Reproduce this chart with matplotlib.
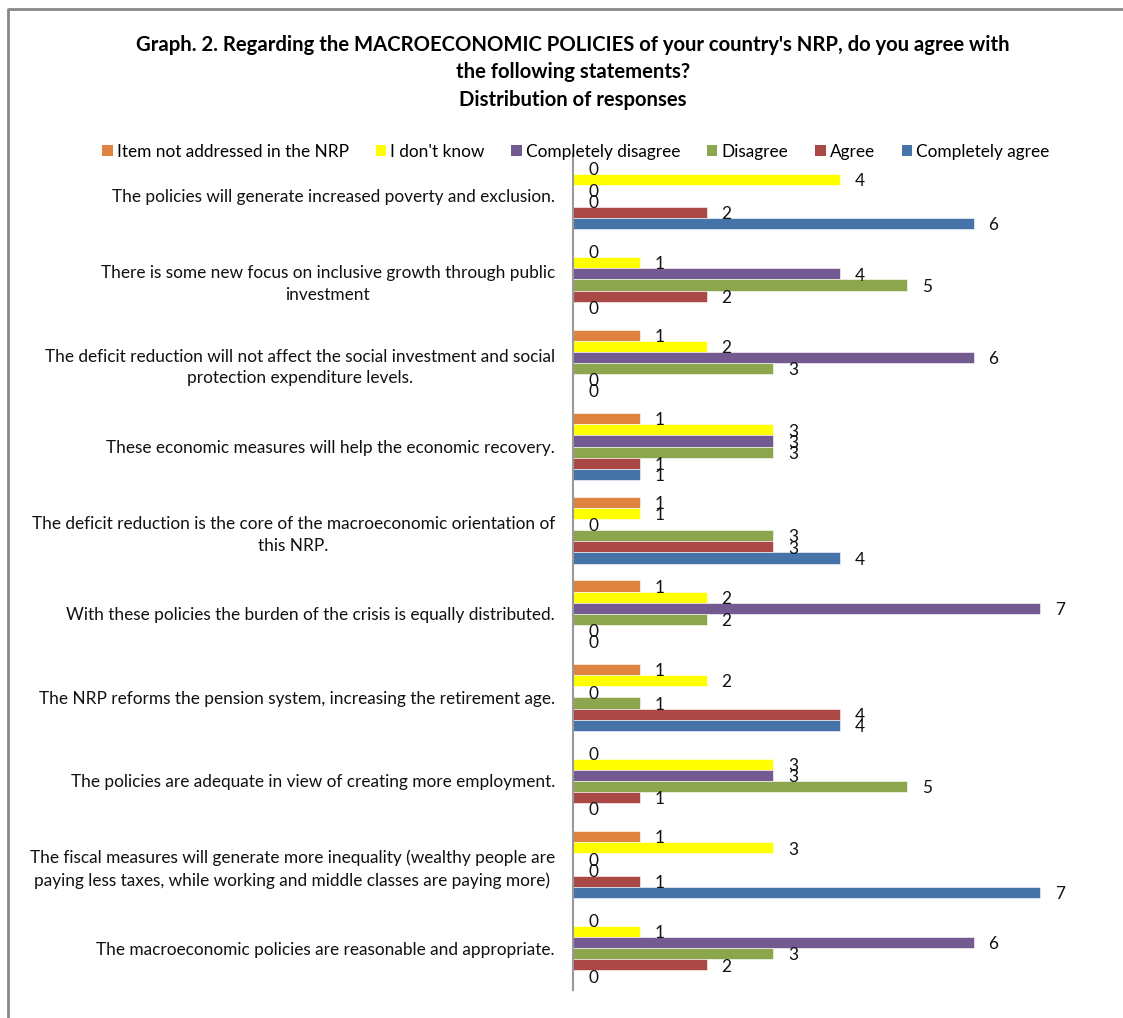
import matplotlib
matplotlib.use("Agg")
import matplotlib.pyplot as plt
from matplotlib.lines import Line2D
from matplotlib.patches import Patch
import numpy as np

# statements, listed top to bottom as they appear on the chart
statements = [
    "The policies will generate increased poverty and exclusion.",
    "There is some new focus on inclusive growth through public\ninvestment",
    "The deficit reduction will not affect the social investment and social\nprotection expenditure levels.",
    "These economic measures will help the economic recovery.",
    "The deficit reduction is the core of the macroeconomic orientation of\nthis NRP.",
    "With these policies the burden of the crisis is equally distributed.",
    "The NRP reforms the pension system, increasing the retirement age.",
    "The policies are adequate in view of creating more employment.",
    "The fiscal measures will generate more inequality (wealthy people are\npaying less taxes, while working and middle classes are paying more)",
    "The macroeconomic policies are reasonable and appropriate.",
]

series = ["Item not addressed in the NRP", "I don't know", "Completely disagree",
          "Disagree", "Agree", "Completely agree"]

not_addressed   = [0, 0, 1, 1, 1, 1, 1, 0, 1, 0]
dont_know       = [4, 1, 2, 3, 1, 2, 2, 3, 3, 1]
compl_disagree  = [0, 4, 6, 3, 0, 7, 0, 3, 0, 6]
disagree        = [0, 5, 3, 3, 3, 2, 1, 5, 0, 3]
agree           = [2, 2, 0, 1, 3, 0, 4, 1, 1, 2]
compl_agree     = [6, 0, 0, 1, 4, 0, 4, 0, 7, 0]

values = [not_addressed, dont_know, compl_disagree, disagree, agree, compl_agree]
colors = ["#DF8340", "#FFFF00", "#735A91", "#8CA64E", "#AA4845", "#4674A8"]

W, H = 1123, 1018
fig = plt.figure(figsize=(W / 100, H / 100), dpi=100)
plt.rcParams["font.family"] = ["Lato", "DejaVu Sans"]

ax = fig.add_axes([573 / W, 1 - 990 / H, (1107 - 573) / W, (990 - 154) / H])

n = len(statements)
ypos = np.arange(n)[::-1]
bh = 0.133
for j, (vals, col) in enumerate(zip(values, colors)):
    yy = ypos + (2.5 - j) * bh
    ax.barh(yy, vals, height=bh, color=col, edgecolor="white", linewidth=0.4)
    for y, v in zip(yy, vals):
        ax.text(v + 0.3, y - 0.02, f"{v}", ha="center", va="center",
                fontsize=12.4, color="#111111")

ax.set_xlim(0, 8)
ax.set_ylim(-0.5, n - 0.5)
ax.set_yticks(ypos)
ax.set_yticklabels(statements, fontsize=12.4, color="#111111")
for t in ax.get_yticklabels():
    t.set_multialignment("center")
    t.set_linespacing(1.45)
ax.tick_params(axis="y", length=0, pad=13)
ax.set_xticks([])
for s in ["top", "right", "bottom"]:
    ax.spines[s].set_visible(False)
ax.spines["left"].set_color("#999999")
ax.spines["left"].set_linewidth(1.5)

title_kw = dict(ha="center", va="center", fontsize=14.6, fontweight="bold")
fig.text(573 / W, 1 - 45 / H,
         "Graph. 2. Regarding the MACROECONOMIC POLICIES of your country's NRP, do you agree with",
         **title_kw)
fig.text(573 / W, 1 - 72 / H, "the following statements?", **title_kw)
fig.text(573 / W, 1 - 100 / H, "Distribution of responses", **title_kw)

handles = [Patch(facecolor=c, edgecolor="none") for c in colors]
fig.legend(handles, series, loc="center", bbox_to_anchor=(576 / W, 1 - 152 / H),
           ncol=6, frameon=False, fontsize=12.4, handlelength=0.6, handleheight=0.6,
           handletextpad=0.25, columnspacing=1.55)

# outer chart border
fig.add_artist(Line2D([8 / W, 8 / W, 1.0], [0.0, 1 - 9 / H, 1 - 9 / H],
                      color="#888888", linewidth=2, transform=fig.transFigure))

fig.savefig("out.png", dpi=100, facecolor="white")
